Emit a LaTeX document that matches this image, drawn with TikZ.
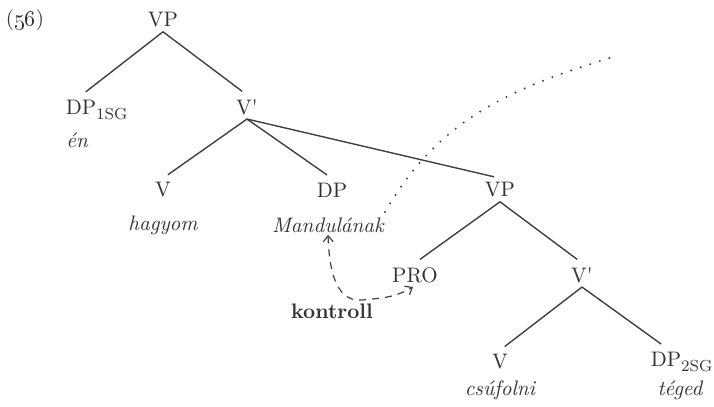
\documentclass[tikz,border=0pt]{standalone}
\usepackage{tikz}
\usetikzlibrary{arrows.meta, positioning}

\begin{document}
\begin{tikzpicture}[
    x=0.5pt, y=-0.5pt,
    cat/.style={inner sep=2pt, font=\fontsize{10.5}{12.5}\selectfont, text=black!80},
    word/.style={inner sep=1pt, font=\fontsize{10.5}{12.5}\selectfont\itshape, text=black!80},
    branch/.style={draw=black!75, line width=0.7pt, shorten >=3pt},
    ctrl/.style={{Straight Barb[length=3pt,width=5pt]}-{Straight Barb[length=3pt,width=5pt]}, dash pattern=on 3.5pt off 3pt, draw=black!75, line width=0.6pt},
    bound/.style={draw=black!75, line width=1.1pt, line cap=round, dash pattern=on 0pt off 5pt}
]
\useasboundingbox (0,0) rectangle (714,407);

% Example number
\node[cat] (num) at (25,20) {(\oldstylenums{56})};

% Upper tree
\node[cat] (vp) at (163,20) {VP};
\node[cat] (dpa) at (81,110) {DP\rlap{\raisebox{-0.6ex}{\fontsize{8}{9}\selectfont 1SG}}};
\node[word, anchor=west] (en) at (64,140) {én};
\node[cat] (vbar) at (247,107) {V\textquotesingle};

\draw[branch] (vp.south) -- (dpa.north);
\draw[branch] (vp.south) -- (vbar.north);

% Matrix V' daughters
\node[cat] (va) at (163,190) {V};
\node[word] (hagyom) at (163,225) {hagyom};
\node[cat] (dpb) at (332,190) {DP};
\node[word] (mand) at (328,225) {Mandulának};
\node[cat] (vpb) at (500,190) {VP};

\draw[branch] (vbar.south) -- (va.north);
\draw[branch] (vbar.south) -- (dpb.north);
\draw[branch] (vbar.south) -- (vpb.north);

% Embedded VP
\node[cat] (pro) at (415,275) {PRO};
\node[cat] (vbarb) at (582,275) {V\textquotesingle};

\draw[branch] (vpb.south) -- (pro.north);
\draw[branch] (vpb.south) -- (vbarb.north);

\node[cat] (vb) at (500,362) {V};
\node[word] (csufolni) at (500,390) {csúfolni};
\node[cat] (dpc) at (666,362) {DP\rlap{\raisebox{-0.6ex}{\fontsize{8}{9}\selectfont 2SG}}};
\node[word] (teged) at (680,390) {téged};

\draw[branch] (vbarb.south) -- (vb.north);
\draw[branch] (vbarb.south) -- (dpc.north);

% Control relation
\node[cat, font=\fontsize{10.5}{12.5}\selectfont\bfseries] (kontroll) at (332,311) {kontroll};
\coordinate (knee) at (362,300);
\draw[ctrl] (mand.south) to[out=-88,in=185] (knee) to[out=5,in=210] ([xshift=-1pt]pro.south);

% Dotted boundary
\coordinate (dota) at (385,212);
\coordinate (dotb) at (613,57);
\draw[bound] (dota) to[out=60,in=197] (dotb);

\end{tikzpicture}
\end{document}
